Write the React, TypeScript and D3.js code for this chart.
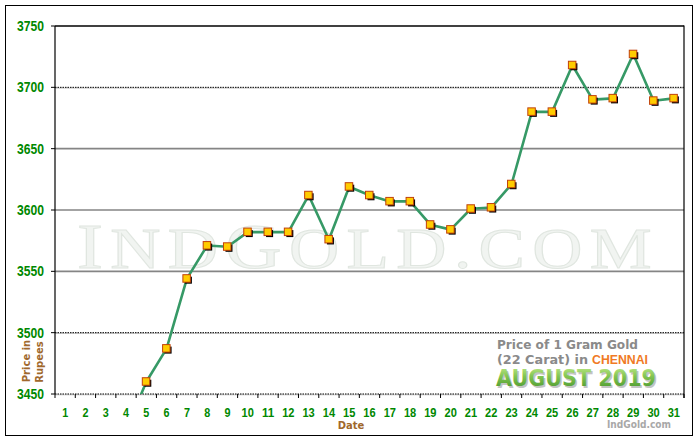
import React from "react";
import * as d3 from "d3";

const days: number[] = d3.range(1, 32);
const prices: (number | null)[] = [
  null, null, null, 3420, 3460, 3487, 3544, 3571, 3570, 3582, 3582, 3582, 3612, 3576, 3619,
  3612, 3607, 3607, 3588, 3584, 3601, 3602, 3621, 3680, 3680, 3718, 3690, 3691, 3727, 3689, 3691,
];
const yTicks: number[] = [3450, 3500, 3550, 3600, 3650, 3700, 3750];
const dottedTicks: number[] = [3450, 3500, 3700];
const solidTicks: number[] = [3550, 3600, 3650];

const W = 700;
const H = 440;
const L = 55;
const R = 684;
const T = 26;
const B = 394;

const SANS = "'Liberation Sans', Arial, sans-serif";
const VERD = "'DejaVu Sans', Verdana, sans-serif";

export default function App() {
  const x = d3.scaleBand<number>().domain(days).range([L, R]).padding(0);
  const y = d3.scaleLinear().domain([3450, 3750]).range([B, T]);
  const cx = (d: number) => (x(d) as number) + x.bandwidth() / 2;

  const pts = days.map((d, i) => ({ d, v: prices[i] }));
  const line = d3
    .line<{ d: number; v: number | null }>()
    .defined((p) => p.v != null)
    .x((p) => cx(p.d))
    .y((p) => y(p.v as number));

  const visible = pts.filter((p) => p.v != null && (p.v as number) >= 3450 && (p.v as number) <= 3750);
  const bounds = [L, ...days.map((d) => (x(d) as number) + x.bandwidth())];

  return (
    <svg
      width={W}
      height={H}
      style={{ position: "absolute", left: 0, top: 0, background: "#fff" }}
      xmlns="http://www.w3.org/2000/svg"
    >
      <defs>
        <clipPath id="plotClip">
          <rect x={L} y={T} width={R - L} height={B - T} />
        </clipPath>
        <linearGradient id="augGrad" x1="0" y1="0" x2="0" y2="1">
          <stop offset="0%" stopColor="#c4ec8c" />
          <stop offset="45%" stopColor="#80c450" />
          <stop offset="100%" stopColor="#44922a" />
        </linearGradient>
      </defs>
      <rect x={0} y={0} width={W} height={H} fill="#fff" />
      <rect x={5.5} y={5.5} width={687} height={430} fill="none" stroke="#000" strokeWidth={1} />

      {/* watermark */}
      <g transform="translate(77,268) scale(1.22,1)">
        <text
          x={0}
          y={0}
          textLength={471}
          lengthAdjust="spacing"
          fontFamily="'Liberation Serif', 'Times New Roman', serif"
          fill="#f1f4f1"
          stroke="#e0e6e0"
          strokeWidth={1}
        >
          <tspan fontSize={64}>I</tspan>
          <tspan fontSize={57}>ND</tspan>
          <tspan fontSize={64}>G</tspan>
          <tspan fontSize={57}>OLD.COM</tspan>
        </text>
      </g>

      {/* gridlines */}
      {solidTicks.map((t) => (
        <line key={"s" + t} x1={L} x2={R} y1={y(t)} y2={y(t)} stroke="#858585" strokeWidth={1.6} />
      ))}
      {dottedTicks.map((t) => (
        <g key={"d" + t}>
          <line x1={L} x2={R} y1={y(t) + 0.8} y2={y(t) + 0.8} stroke="#c8c8c8" strokeWidth={1} />
          <line x1={L} x2={R} y1={y(t)} y2={y(t)} stroke="#000" strokeWidth={1} strokeDasharray="1.5,1" />
        </g>
      ))}
      <line x1={L} x2={R} y1={T} y2={T} stroke="#000" strokeWidth={1.5} />
      <line x1={L} x2={L} y1={T} y2={B} stroke="#000" strokeWidth={1.2} />
      <line x1={R} x2={R} y1={T - 0.5} y2={B + 4} stroke="#000" strokeWidth={1.2} />

      {/* y ticks + labels */}
      {yTicks.map((t) => (
        <g key={"yt" + t}>
          <line x1={L - 4} x2={L} y1={y(t)} y2={y(t)} stroke="#000" strokeWidth={1} />
          <text
            x={17}
            y={y(t)}
            dy="0.36em"
            textLength={27}
            lengthAdjust="spacingAndGlyphs"
            fontFamily={SANS}
            fontWeight="bold"
            fontSize={14}
            fill="#008800"
          >
            {t}
          </text>
        </g>
      ))}

      {/* x ticks + labels */}
      {bounds.map((b, i) => (
        <line key={"xt" + i} x1={b} x2={b} y1={B} y2={B + 4} stroke="#000" strokeWidth={1} />
      ))}
      {days.map((d) => {
        const w = d < 10 ? 6 : 12.3;
        return (
          <text
            key={"xl" + d}
            x={cx(d) - w / 2}
            y={416.5}
            textLength={w}
            lengthAdjust="spacingAndGlyphs"
            fontFamily={SANS}
            fontWeight="bold"
            fontSize={13}
            fill="#008800"
          >
            {d}
          </text>
        );
      })}

      {/* axis titles */}
      <text
        x={351}
        y={428.5}
        textAnchor="middle"
        fontFamily={VERD}
        fontWeight="bold"
        fontSize={10}
        fill="#a0682c"
      >
        Date
      </text>
      <g transform="translate(30,361) rotate(-90)">
        <text x={0} y={0} textAnchor="middle" fontFamily={VERD} fontWeight="bold" fontSize={10} fill="#a0682c">
          Price in
        </text>
      </g>
      <g transform="translate(43,362) rotate(-90)">
        <text x={0} y={0} textAnchor="middle" fontFamily={VERD} fontWeight="bold" fontSize={10} fill="#a0682c">
          Rupees
        </text>
      </g>

      {/* legend box */}
      <text x={497} y={348.5} textLength={141} lengthAdjust="spacingAndGlyphs" fontFamily={VERD} fontWeight="bold" fontSize={11.5} fill="#8a8a8a">
        Price of 1 Gram Gold
      </text>
      <text x={497} y={363.5} textLength={91} lengthAdjust="spacingAndGlyphs" fontFamily={VERD} fontWeight="bold" fontSize={11.5} fill="#8a8a8a">
        (22 Carat) in
      </text>
      <text x={592} y={363.5} textLength={56} lengthAdjust="spacingAndGlyphs" fontFamily={SANS} fontWeight="bold" fontSize={13} fill="#f07a24">
        CHENNAI
      </text>
      <text x={497.5} y={387.5} textLength={160} lengthAdjust="spacingAndGlyphs" fontFamily={VERD} fontWeight="bold" fontSize={23} fill="#c4c4c4">
        AUGUST 2019
      </text>
      <text x={496} y={386} textLength={160} lengthAdjust="spacingAndGlyphs" fontFamily={VERD} fontWeight="bold" fontSize={23} fill="url(#augGrad)">
        AUGUST 2019
      </text>
      <text x={607} y={427.5} textLength={64} lengthAdjust="spacingAndGlyphs" fontFamily={VERD} fontWeight="bold" fontSize={10} fill="#a8a8a8">
        IndGold.com
      </text>

      {/* series */}
      <g clipPath="url(#plotClip)">
        <path d={line(pts) || ""} fill="none" stroke="#369966" strokeWidth={2.6} strokeLinejoin="round" />
      </g>
      {visible.map((p) => (
        <g key={"m" + p.d}>
          <rect x={cx(p.d) - 2} y={y(p.v as number) - 2} width={7} height={7} fill="#000" />
          <rect
            x={cx(p.d) - 4}
            y={y(p.v as number) - 4}
            width={7.5}
            height={7.5}
            fill="#ffcc00"
            stroke="#c0400a"
            strokeWidth={1}
          />
        </g>
      ))}
    </svg>
  );
}
